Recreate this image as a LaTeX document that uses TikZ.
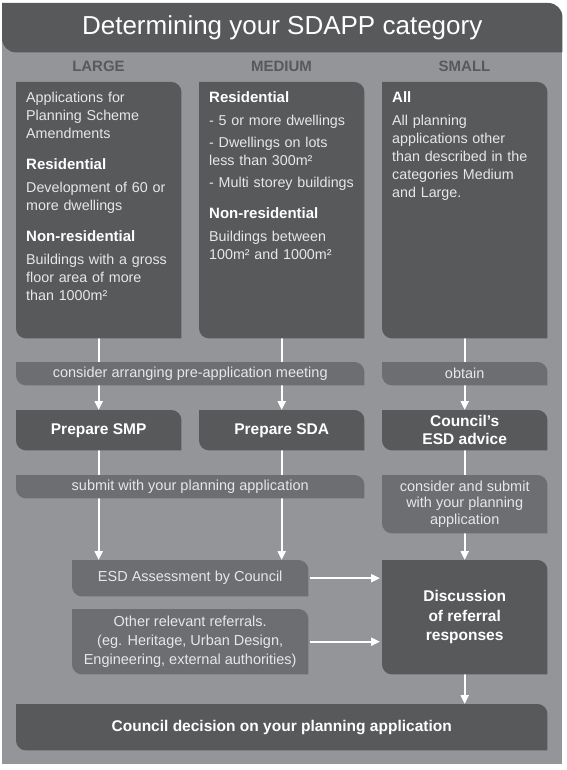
\documentclass[tikz,border=0pt]{standalone}
\usepackage{fontspec}
\setmainfont{Liberation Sans}
\usetikzlibrary{positioning}
\usetikzlibrary{arrows.meta}

\definecolor{bggrey}{HTML}{939598}
\definecolor{darkgrey}{HTML}{58595B}
\definecolor{midgrey}{HTML}{6D6E71}
\definecolor{lighttext}{HTML}{E6E7E8}

\pgfdeclarelayer{back}
\pgfdeclarelayer{lines}
\pgfdeclarelayer{boxes}
\pgfsetlayers{back,lines,boxes,main}

% box fill, rounded top right and bottom left
\newcommand{\leafbox}[3][10pt]{%
 \begin{pgfonlayer}{boxes}
 \fill[#2](#3.north west)--([xshift=-#1]#3.north east) arc[start angle=90,end angle=0,radius=#1]--(#3.south east)--([xshift=#1]#3.south west) arc[start angle=270,end angle=180,radius=#1]--cycle;
 \end{pgfonlayer}}
\newcommand{\boxhead}[1]{{\fontsize{15}{18}\selectfont\bfseries\color{white}#1}}

\begin{document}
\begin{tikzpicture}[x=1pt,y=1pt,
 titlebar/.style={anchor=north west,minimum width=560pt,minimum height=49pt,inner sep=0pt,text=white,font=\fontsize{26}{30}\selectfont},
 head/.style={text=darkgrey,font=\fontsize{15}{18}\selectfont\bfseries},
 topbox/.style={anchor=north west,text width=145pt,align=left,inner sep=10pt,text height=10.5pt,text depth=225.5pt,text=lighttext,font=\fontsize{14.3}{18}\selectfont},
 bar/.style={anchor=north west,inner sep=0pt,align=center,text=lighttext,font=\fontsize{14.5}{19}\selectfont},
 actbox/.style={anchor=north west,minimum width=165pt,inner sep=0pt,align=center,text=white,font=\fontsize{15.5}{19}\selectfont\bfseries},
 flow/.style={draw=white,line width=2pt,-{Triangle[width=8pt,length=9pt]}}]
 \useasboundingbox (0,0) rectangle (566,-770);
 \begin{pgfonlayer}{back}
 \fill[white] (0,0) rectangle (566,-770);
 \fill[bggrey] (2,-40) rectangle (562,-764);
 \end{pgfonlayer}

 \node[titlebar] (title) at (2,-3) {Determining your SDAPP category};
 \leafbox[14pt]{darkgrey}{title}

 \node[head] (hlarge) at (98.5,-66) {LARGE};
 \node[head] (hmedium) at (281.5,-66) {MEDIUM};
 \node[head] (hsmall) at (464.5,-66) {SMALL};

 \node[topbox] (large) at (16,-82) {Applications for\\ Planning Scheme\\ Amendments\\[13pt]
 \boxhead{Residential}\\[5pt]
 Development of 60 or\\ more dwellings\\[13pt]
 \boxhead{Non-residential}\\[5pt]
 Buildings with a gross\\ floor area of more\\ than 1000m²};
 \node[topbox] (medium) at (199,-82) {\boxhead{Residential}\\[5pt]
 - 5 or more dwellings\\[4pt]
 - Dwellings on lots\\ less than 300m²\\[4pt]
 - Multi storey buildings\\[13pt]
 \boxhead{Non-residential}\\[5pt]
 Buildings between\\ 100m² and 1000m²};
 \node[topbox] (small) at (382,-82) {\boxhead{All}\\[5pt]
 All planning\\ applications other\\ than described in the\\ categories Medium\\ and Large.};

 \node[bar,minimum width=348pt,minimum height=23pt] (premeet) at (16,-362) {consider arranging pre-application meeting};
 \node[bar,minimum width=165pt,minimum height=23pt] (obtain) at (382,-362) {obtain};
 \node[actbox,minimum height=40pt] (smp) at (16,-410) {Prepare SMP};
 \node[actbox,minimum height=40pt] (sda) at (199,-410) {Prepare SDA};
 \node[actbox,minimum height=40pt,font=\fontsize{15.5}{18}\selectfont\bfseries] (advice) at (382,-410) {Council’s\\ESD advice};
 \node[bar,minimum width=348pt,minimum height=23pt] (submit) at (16,-475) {submit with your planning application};
 \node[bar,minimum width=165pt,minimum height=58pt,font=\fontsize{14.5}{16.5}\selectfont] (consider) at (382,-475) {consider and submit\\with your planning\\application};
 \node[bar,minimum width=236pt,minimum height=36pt] (esd) at (72,-560) {ESD Assessment by Council};
 \node[bar,minimum width=236pt,minimum height=65pt] (other) at (72,-609) {Other relevant referrals.\\(eg. Heritage, Urban Design,\\Engineering, external authorities)};
 \node[actbox,minimum height=114pt,font=\fontsize{15.5}{19.5}\selectfont\bfseries] (discuss) at (382,-560) {Discussion\\of referral\\responses};
 \node[actbox,minimum width=531pt,minimum height=46pt] (decision) at (16,-704) {Council decision on your planning application};

 \foreach \n in {large,medium,small,smp,sda,advice,discuss,decision} {\leafbox{darkgrey}{\n}}
 \foreach \n in {premeet,obtain,submit,consider,esd,other} {\leafbox{midgrey}{\n}}

 \begin{pgfonlayer}{lines}
 \draw[flow] (large) -- (smp);
 \draw[flow] (medium) -- (sda);
 \draw[flow] (small) -- (advice);
 \draw[flow] (smp) -- (smp.south |- esd.north);
 \draw[flow] (sda) -- (sda.south |- esd.north);
 \draw[flow] (advice) -- (discuss);
 \draw[flow,shorten <=2pt,shorten >=2pt] (esd) -- (esd -| discuss.west);
 \draw[flow,shorten <=2pt,shorten >=2pt] (other) -- (other -| discuss.west);
 \draw[flow] (discuss) -- (discuss.south |- decision.north);
 \end{pgfonlayer}
\end{tikzpicture}
\end{document}
